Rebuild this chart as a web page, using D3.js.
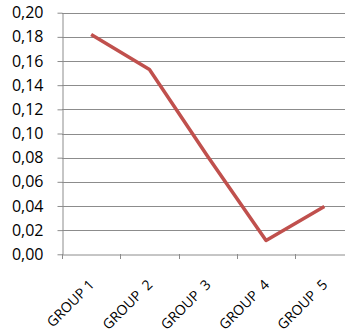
<!DOCTYPE html>
<html>
<head>
<meta charset="utf-8">
<script src="https://cdn.jsdelivr.net/npm/d3@7"></script>
<style>
  html, body { margin: 0; padding: 0; background: #fff; overflow: hidden; }
  svg { display: block; }
  .tick text { font-family: "Open Sans", sans-serif; fill: #000; white-space: pre; }
</style>
</head>
<body>
<svg id="chart" width="345" height="333"></svg>
<script>
const categories = ["GROUP 1", "GROUP  2", "GROUP  3", "GROUP  4", "GROUP  5"];
const values = [0.182, 0.153, 0.081, 0.0115, 0.0395];
const yTicks = [0, 0.02, 0.04, 0.06, 0.08, 0.10, 0.12, 0.14, 0.16, 0.18, 0.20];

const svg = d3.select("#chart");
const plotLeft = 62, plotRight = 353.5, plotTop = 12.7, plotBottom = 254.3;

const x = d3.scaleBand().domain(categories).range([plotLeft, plotRight]);
const y = d3.scaleLinear().domain([0, 0.2]).range([plotBottom, plotTop]);
const fmt = v => d3.format(".2f")(v).replace(".", ",");

// horizontal gridlines
svg.append("g")
  .selectAll("line")
  .data(yTicks.filter(d => d > 0))
  .join("line")
  .attr("x1", plotLeft).attr("x2", plotRight)
  .attr("y1", d => Math.round(y(d)) + 0.5).attr("y2", d => Math.round(y(d)) + 0.5)
  .attr("stroke", "#8c8c8c").attr("stroke-width", 1);

// y axis
const yAxis = svg.append("g")
  .attr("transform", `translate(${plotLeft + 0.5},0)`)
  .call(d3.axisLeft(y).tickValues(yTicks).tickFormat(fmt).tickSize(5).tickSizeOuter(0).tickPadding(14));
yAxis.selectAll("path, line").attr("stroke", "#8c8c8c");
yAxis.selectAll("text").style("font-size", "16px");

// x axis
const xAxis = svg.append("g")
  .attr("transform", `translate(0,${Math.round(plotBottom) + 0.5})`)
  .call(d3.axisBottom(x).tickSize(0).tickSizeOuter(0));
xAxis.select(".domain").attr("stroke", "#8c8c8c");
xAxis.selectAll("text")
  .style("font-size", "14px")
  .attr("text-anchor", "end")
  .attr("x", 0).attr("y", 0).attr("dy", 0)
  .attr("transform", "translate(4,31) rotate(-45)");
// category boundary ticks
svg.append("g")
  .selectAll("line")
  .data(categories)
  .join("line")
  .attr("x1", d => Math.round(x(d)) + 0.5).attr("x2", d => Math.round(x(d)) + 0.5)
  .attr("y1", Math.round(plotBottom)).attr("y2", Math.round(plotBottom) + 5)
  .attr("stroke", "#8c8c8c");

// series line
const line = d3.line()
  .x((d, i) => x(categories[i]) + x.bandwidth() / 2)
  .y(d => y(d));
svg.append("path")
  .datum(values)
  .attr("d", line)
  .attr("fill", "none")
  .attr("stroke", "#c0504d")
  .attr("stroke-width", 3.5)
  .attr("stroke-linejoin", "round");
</script>
</body>
</html>
